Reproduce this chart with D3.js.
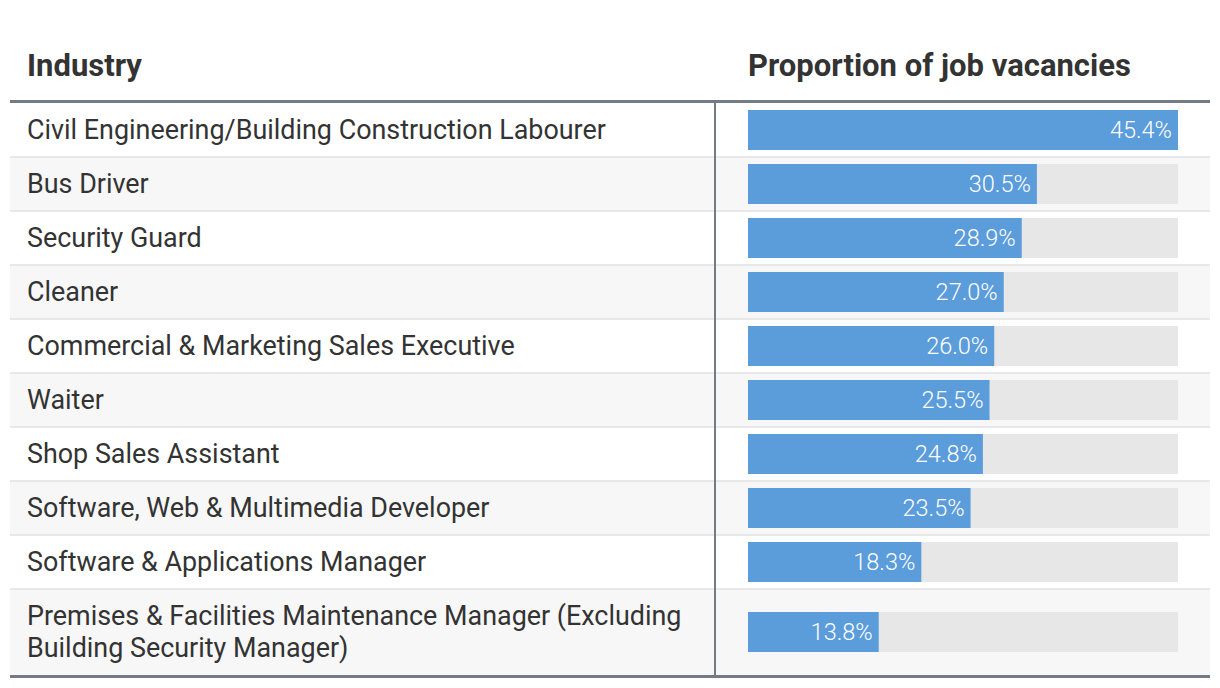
<!DOCTYPE html>
<html><head><meta charset="utf-8">
<script src="https://cdn.jsdelivr.net/npm/d3@7"></script>
<style>
html,body{margin:0;padding:0;background:#fff;}
svg text{font-family:Roboto,"Noto Sans",sans-serif;}
</style></head>
<body><svg id="c" width="1220" height="688"></svg>
<script>
const categories = [
  "Civil Engineering/Building Construction Labourer",
  "Bus Driver",
  "Security Guard",
  "Cleaner",
  "Commercial & Marketing Sales Executive",
  "Waiter",
  "Shop Sales Assistant",
  "Software, Web & Multimedia Developer",
  "Software & Applications Manager",
  "Premises & Facilities Maintenance Manager (Excluding Building Security Manager)"
];
const values = [45.4, 30.5, 28.9, 27.0, 26.0, 25.5, 24.8, 23.5, 18.3, 13.8];
const headers = ["Industry", "Proportion of job vacancies"];

const svg = d3.select("#c");
const left = 10, right = 1210, divX = 715;
const textX = 27, wrapW = 680;
const bodySize = 26.9, headSize = 31, labelSize = 23.5;
const headerBase = 76, tableTop = 103;
const rowH1 = 54, lineH = 32, barH = 40;
const x = d3.scaleLinear().domain([0, d3.max(values)]).range([748, 1178]);

// measure wrapping
const meas = svg.append("text").attr("font-size", bodySize).attr("x", -9999).attr("y", -9999);
function wrapLines(str) {
  const words = str.split(" "); const lines = []; let cur = "";
  for (const w of words) {
    const t = cur ? cur + " " + w : w;
    meas.text(t);
    if (meas.node().getComputedTextLength() > wrapW && cur) { lines.push(cur); cur = w; }
    else cur = t;
  }
  lines.push(cur); return lines;
}
const rows = categories.map((c, i) => ({ name: c, value: values[i], lines: wrapLines(c) }));
meas.remove();
let yy = tableTop;
rows.forEach(r => { r.h = r.lines.length > 1 ? rowH1 + (r.lines.length - 1) * lineH : rowH1; r.y = yy; yy += r.h; });
const tableBottom = yy;

const g = svg.append("g");
const row = g.selectAll("g.row").data(rows).join("g").attr("class", "row")
  .attr("transform", d => `translate(0,${d.y})`);
row.append("rect").attr("x", left).attr("width", right - left).attr("height", d => d.h)
  .attr("fill", (d, i) => i % 2 ? "#f7f7f7" : "#ffffff");
row.filter((d, i) => i > 0).append("rect").attr("x", left).attr("width", right - left)
  .attr("y", -1).attr("height", 2).attr("fill", "#e8e8e8");
row.append("text").attr("font-size", bodySize).attr("fill", "#333")
  .attr("x", textX)
  .each(function (d) {
    const t = d3.select(this);
    const n = d.lines.length;
    d.lines.forEach((l, k) => {
      t.append("tspan").attr("x", textX)
        .attr("y", d.h / 2 + (k - (n - 1) / 2) * lineH)
        .attr("dy", "0.35em").text(l);
    });
  });
row.append("rect").attr("x", x(0)).attr("width", x(d3.max(values)) - x(0))
  .attr("y", d => d.h / 2 - barH / 2).attr("height", barH).attr("fill", "#e7e7e7");
row.append("rect").attr("x", x(0)).attr("width", d => x(d.value) - x(0))
  .attr("y", d => d.h / 2 - barH / 2).attr("height", barH).attr("fill", "#5b9cdb");
row.append("text").attr("x", d => x(d.value) - 6).attr("y", d => d.h / 2)
  .attr("dy", "0.35em").attr("text-anchor", "end").attr("font-size", labelSize)
  .attr("font-weight", 300).attr("fill", "#fff")
  .text(d => d3.format(".1f")(d.value) + "%");

// headers
svg.append("text").attr("x", textX).attr("y", headerBase).attr("font-size", headSize)
  .attr("font-weight", 700).attr("fill", "#333").text(headers[0]);
svg.append("text").attr("x", x(0)).attr("y", headerBase).attr("font-size", headSize)
  .attr("font-weight", 700).attr("fill", "#333").text(headers[1]);

// borders
svg.append("rect").attr("x", left).attr("y", 100).attr("width", right - left).attr("height", 3).attr("fill", "#737b84");
svg.append("rect").attr("x", left).attr("y", tableBottom).attr("width", right - left).attr("height", 3).attr("fill", "#737b84");
svg.append("rect").attr("x", divX - 1).attr("y", 103).attr("width", 2).attr("height", tableBottom - 103).attr("fill", "#737b84");
</script></body></html>
